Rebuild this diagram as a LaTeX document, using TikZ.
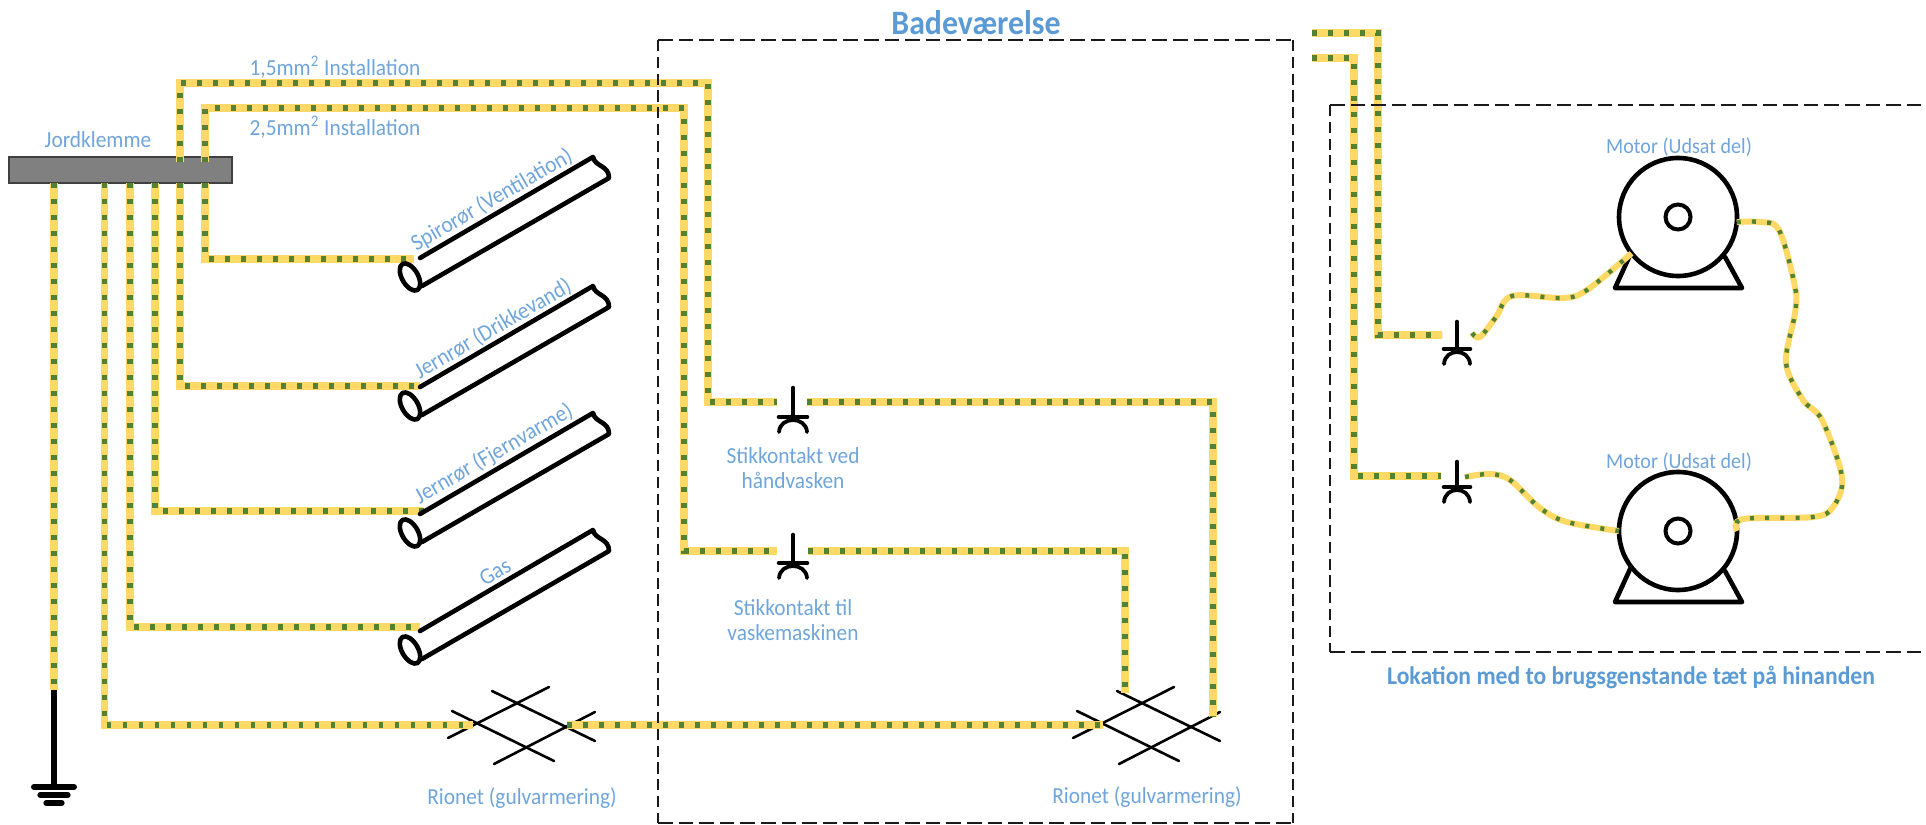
\documentclass[tikz,border=0pt]{standalone}
\usepackage{fontspec}
\setmainfont{Carlito}[FakeStretch=0.93]
\usetikzlibrary{shapes.geometric}
\definecolor{wy}{HTML}{FFD966}
\definecolor{wg}{HTML}{548235}
\definecolor{lab}{HTML}{6FA5DB}
\definecolor{head}{HTML}{5B9BD5}
\definecolor{dk}{HTML}{1A1A1A}
\tikzset{
  wire/.style={draw=wy,line width=3.8pt,postaction={draw=wg,line width=2.8pt,dash pattern=on 2.4pt off 5.6pt}},
  wirethin/.style={draw=wy,line width=3pt,postaction={draw=wg,line width=2.2pt,dash pattern=on 2pt off 5.6pt}},
  lbl/.style={text=lab,font=\fontsize{11.5pt}{12.5pt}\selectfont,inner sep=0pt,align=center},
  lblm/.style={text=lab,font=\fontsize{10.8pt}{12.5pt}\selectfont,inner sep=0pt,align=center},
  hdr/.style={text=head,inner sep=0pt,font=\fontsize{17.1pt}{18pt}\selectfont\bfseries},
  zoneh/.style={draw=dk,line width=1pt,dash pattern=on 7.3pt off 3pt},
  zonev/.style={draw=dk,line width=1pt,dash pattern=on 5.6pt off 2.8pt},
  sym/.style={draw=black,line width=2.3pt,line cap=round,line join=round},
  mesh/.style={draw=black,line width=1.3pt,line cap=round},
}
\newcommand\tubeshape[2]{%
  \begin{scope}[shift={(#1,#2)}]
    \draw[sym] (10,-19) -- (183,-120) .. controls (185,-110) and (199,-112) .. (199,-99) -- (12,9);
    \draw[sym,fill=white,rotate=-60] (0,0) ellipse[x radius=15,y radius=8];
  \end{scope}}
\newcommand\socketshape[4]{% x, cross y, stem height, half width
  \begin{scope}[shift={(#1,#2)}]
    \draw[sym] (0,-#3) -- (0,0);
    \draw[sym] (-#4,0) -- (#4,0);
    \draw[sym,line width=1.9pt] (-#4,15) .. controls (-#4+1,-1) and (#4-1,-1) .. (#4,15);
  \end{scope}}
\newcommand\meshshape[2]{%
  \begin{scope}[shift={(#1,#2)}]
    \draw[mesh] (40,-20) -- (143,30);
    \draw[mesh] (0,0) -- (102,50);
    \draw[mesh] (97,-24) -- (-4,27);
    \draw[mesh] (143,1) -- (42,53);
  \end{scope}}
\newcommand\motorbase[1]{%
  \draw[sym] (1631,#1-35) -- (1615,#1) -- (1742,#1) -- (1725,#1-31);}
\begin{document}
\begin{tikzpicture}[x=.5pt,y=-.5pt]
\useasboundingbox (0,0) rectangle (1926,824);
% ground bar
\node[draw=black!75,fill=black!50,line width=.6pt,minimum width=111.5pt,minimum height=13pt,inner sep=0pt,outer sep=0pt] (bar) at (120.5,170) {};
% floor meshes
\meshshape{452}{711}
\meshshape{1077}{711}
% anchors
\coordinate (a1) at (180,162); \coordinate (a2) at (205,162);
\coordinate (bg) at (54,183); \coordinate (b5) at (104.5,183); \coordinate (b4) at (130,183);
\coordinate (b3) at (155,183); \coordinate (b2) at (180,183); \coordinate (b1) at (205,183);
\coordinate (t1) at (414,259); \coordinate (t2) at (420,386); \coordinate (t3) at (424,511); \coordinate (t4) at (420,627);
\coordinate (r1w) at (473,725); \coordinate (r1e) at (567,725); \coordinate (r2w) at (1103,725);
\coordinate (r2n) at (1125,693); \coordinate (r2e) at (1213,717);
\coordinate (s1l) at (777,402); \coordinate (s1r) at (807,402);
\coordinate (s2l) at (777,551); \coordinate (s2r) at (808,551);
\coordinate (f1) at (1312,33); \coordinate (f2) at (1312,58);
\coordinate (s3l) at (1442,335); \coordinate (s4l) at (1441,476);
\coordinate (s3r) at (1472,333); \coordinate (s4r) at (1465,477);
\coordinate (gt) at (54,690); \coordinate (gb) at (54,787);
% motors
\node[circle,draw=black,line width=2.3pt,minimum size=59pt,inner sep=0pt,outer sep=0pt] (m1) at (1678,217) {};
\node[circle,draw=black,line width=2.3pt,minimum size=59pt,inner sep=0pt,outer sep=0pt] (m2) at (1678,531) {};
\node[circle,draw=black,line width=2pt,minimum size=12.5pt,inner sep=0pt] (h1) at (1678,217) {};
\node[circle,draw=black,line width=2pt,minimum size=12.5pt,inner sep=0pt] (h2) at (1678,531) {};
\motorbase{288}
\motorbase{602}
% wires
\draw[wire] (a1) -- (180,83) -- (708,83) -- (708,402) -- (s1l);
\draw[wire] (a2) -- (205,108) -- (684,108) -- (684,551) -- (s2l);
\draw[wire] (s1r) -- (1213,402) -- (r2e);
\draw[wire] (s2r) -- (1125,551) -- (r2n);
\draw[wire] (b1) |- (t1);
\draw[wire] (b2) |- (t2);
\draw[wire] (b3) |- (t3);
\draw[wire] (b4) |- (t4);
\draw[wire] (b5) |- (r1w);
\draw[wire] (r1e) -- (r2w);
\draw[wire] (bg) -- (gt);
\draw[wire] (f1) -- (1378,33) -- (1378,335) -- (s3l);
\draw[wire] (f2) -- (1354,58) -- (1354,476) -- (s4l);
\draw[wirethin] plot[smooth,tension=.55] coordinates {(s3r) (1480,337) (1496,317) (1512,296) (1563,298) (1587,290) (m1.218)};
\draw[wirethin] plot[smooth,tension=.55] coordinates {(s4r) (1490,474) (1510,480) (1540,508) (1567,522) (m2.180)};
\draw[wirethin] plot[smooth,tension=.55] coordinates {(m1.-5) (1759,222) (1779,230) (1795,287) (1795,313) (1786,363) (1803,400) (1822,420) (1842,477) (1833,507) (1813,517) (1743,519) (m2.0)};
% ground symbol
\draw[sym,line cap=butt,line width=2.8pt] (gt) -- (gb);
\draw[sym,line width=3pt] (34,787) -- (74,787);
\draw[sym,line width=2.6pt] (40,795) -- (68,795);
\draw[sym,line width=2.6pt] (46,803) -- (62,803);
% pipes
\tubeshape{410}{277}
\tubeshape{410}{406}
\tubeshape{410}{533}
\tubeshape{410}{650}
% sockets
\socketshape{793}{417}{29}{14}
\socketshape{793}{563}{28}{14}
\socketshape{1457}{349}{27}{13}
\socketshape{1457}{487}{25}{13}
% zones
\draw[zoneh] (658,40) -- (1293,40);
\draw[zoneh] (658,823) -- (1293,823);
\draw[zonev] (658,40) -- (658,823);
\draw[zonev] (1293,40) -- (1293,823);
\draw[zoneh] (1330,105) -- (1926,105);
\draw[zoneh] (1330,652) -- (1926,652);
\draw[zonev] (1330,105) -- (1330,652);
% labels
\node[hdr] (tb) at (976,23) {Badeværelse};
\node[hdr,font=\fontsize{12.7pt}{14pt}\selectfont\bfseries] (tl) at (1631,677) {Lokation med to brugsgenstande tæt på hinanden};
\node[lbl] (lj) at (98,140) {Jordklemme};
\node[lbl] (l15) at (335,67) {1,5mm\textsuperscript{2} Installation};
\node[lbl] (l25) at (335,127) {2,5mm\textsuperscript{2} Installation};
\node[lbl,rotate=30] (p1) at (492,200) {Spirorør (Ventilation)};
\node[lbl,rotate=30] (p2) at (493,329) {Jernrør (Drikkevand)};
\node[lbl,rotate=30] (p3) at (494,454) {Jernrør (Fjernvarme)};
\node[lbl,rotate=30] (p4) at (495,572) {Gas};
\node[lbl] (k1) at (793,468) {Stikkontakt ved\\håndvasken};
\node[lbl] (k2) at (793,620) {Stikkontakt til\\vaskemaskinen};
\node[lbl] (r1) at (522,798) {Rionet (gulvarmering)};
\node[lbl] (r2) at (1147,797) {Rionet (gulvarmering)};
\node[lblm] (mt1) at (1679,147) {Motor (Udsat del)};
\node[lblm] (mt2) at (1679,462) {Motor (Udsat del)};
\end{tikzpicture}
\end{document}
